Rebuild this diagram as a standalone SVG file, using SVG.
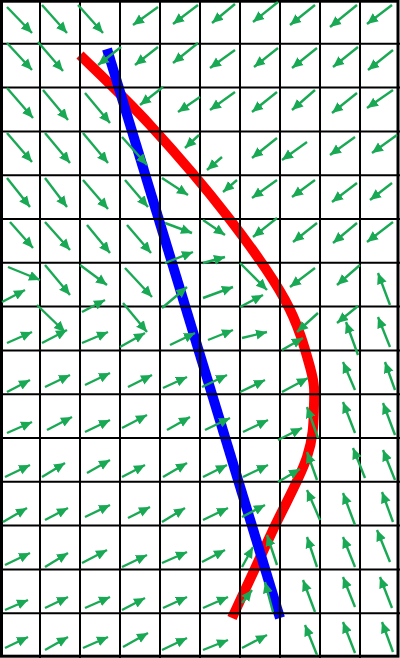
<svg xmlns="http://www.w3.org/2000/svg" width="400" height="658" viewBox="0 0 400 658">
<style>
.g{stroke:#000;stroke-width:2;fill:none}
.a{stroke:#19a954;stroke-width:2.4;fill:none;marker-end:url(#h)}
</style>
<defs>
<marker id="h" markerUnits="userSpaceOnUse" markerWidth="13" markerHeight="12" refX="11" refY="5.5" orient="auto"><path d="M0,0.5 L11,5.5 L0,10.5 z" fill="#19a954"/></marker>
</defs>
<rect width="400" height="658" fill="#fff"/>
<g id="curves">
<path d="M80,55 C91.7,66.7 125.3,98 150,125 C174.7,152 205.5,187.8 228,217 C250.5,246.2 271.3,275 285,300 C298.7,325 305.2,349.5 310,367 C314.8,384.5 314.5,390 314,405 C313.5,420 314,435.8 307,457 C300,478.2 284.5,505.2 272,532 C259.5,558.8 238.7,603.7 232,618" fill="none" stroke="#ff0000" stroke-width="10"/>
<line x1="107" y1="49" x2="280" y2="618" stroke="#0000ff" stroke-width="10"/>
</g>
<g id="grid" class="g">
<path d="M40,0V658M80,0V658M120,0V658M160,0V658M200,0V658M240,0V658M280,0V658M320,0V658M360,0V658"/>
<path d="M0,43.8H400M0,87.6H400M0,131.4H400M0,175.2H400M0,219H400M0,262.8H400M0,306.6H400M0,350.4H400M0,394.2H400M0,438H400M0,481.8H400M0,525.6H400M0,569.4H400M0,613.2H400"/>
<rect x="1.5" y="1.2" width="396.5" height="655" stroke-width="3"/>
</g>
<g id="arrows" class="a">
<line x1="7" y1="7" x2="32" y2="33"/><line x1="42" y1="5" x2="67" y2="33"/><line x1="78" y1="5" x2="103" y2="33"/><line x1="158" y1="7" x2="133" y2="25"/><line x1="198" y1="5" x2="173" y2="24"/><line x1="235" y1="4" x2="212" y2="23"/><line x1="278" y1="2" x2="253" y2="22"/><line x1="315" y1="5" x2="290" y2="25"/><line x1="357" y1="5" x2="330" y2="27"/><line x1="392" y1="5" x2="367" y2="24"/>
<line x1="7" y1="43" x2="32" y2="70"/><line x1="38" y1="42" x2="63" y2="71"/><line x1="121" y1="47" x2="98" y2="65"/><line x1="158" y1="47" x2="135" y2="65"/><line x1="198" y1="43" x2="173" y2="63"/><line x1="235" y1="50" x2="210" y2="68"/><line x1="278" y1="48" x2="254" y2="67"/><line x1="317" y1="48" x2="292" y2="68"/><line x1="358" y1="47" x2="333" y2="67"/><line x1="393" y1="50" x2="368" y2="70"/>
<line x1="7" y1="88" x2="33" y2="118"/><line x1="43" y1="90" x2="68" y2="120"/><line x1="85" y1="93" x2="110" y2="123"/><line x1="163" y1="87" x2="140" y2="105"/><line x1="200" y1="97" x2="178" y2="112"/><line x1="235" y1="92" x2="210" y2="110"/><line x1="277" y1="92" x2="252" y2="112"/><line x1="315" y1="90" x2="292" y2="110"/><line x1="357" y1="93" x2="332" y2="113"/><line x1="393" y1="90" x2="367" y2="108"/>
<line x1="7" y1="133" x2="32" y2="162"/><line x1="45" y1="133" x2="70" y2="163"/><line x1="83" y1="133" x2="108" y2="163"/><line x1="122" y1="137" x2="147" y2="165"/><line x1="199" y1="135" x2="185" y2="148"/><line x1="222" y1="157" x2="207" y2="170"/><line x1="277" y1="138" x2="252" y2="158"/><line x1="307" y1="142" x2="282" y2="160"/><line x1="355" y1="137" x2="330" y2="155"/><line x1="397" y1="135" x2="372" y2="153"/>
<line x1="7" y1="178" x2="30" y2="207"/><line x1="45" y1="178" x2="67" y2="207"/><line x1="83" y1="180" x2="108" y2="209"/><line x1="125" y1="180" x2="148" y2="207"/><line x1="162" y1="178" x2="188" y2="195"/><line x1="237" y1="180" x2="223" y2="192"/><line x1="277" y1="180" x2="252" y2="198"/><line x1="315" y1="180" x2="292" y2="197"/><line x1="357" y1="183" x2="332" y2="202"/><line x1="392" y1="183" x2="370" y2="200"/>
<line x1="10" y1="222" x2="33" y2="248"/><line x1="45" y1="222" x2="70" y2="250"/><line x1="87" y1="225" x2="110" y2="253"/><line x1="127" y1="225" x2="151" y2="253"/><line x1="165" y1="223" x2="192" y2="233"/><line x1="203" y1="220" x2="225" y2="235"/><line x1="277" y1="218" x2="253" y2="237"/><line x1="317" y1="223" x2="293" y2="242"/><line x1="357" y1="223" x2="333" y2="243"/><line x1="393" y1="222" x2="367" y2="242"/><line x1="165" y1="263" x2="193" y2="252"/><line x1="203" y1="263" x2="225" y2="257"/>
<line x1="8" y1="267" x2="40" y2="280"/><line x1="2" y1="302" x2="25" y2="290"/><line x1="45" y1="265" x2="70" y2="295"/><line x1="80" y1="265" x2="107" y2="285"/><line x1="82" y1="312" x2="105" y2="300"/><line x1="125" y1="268" x2="152" y2="297"/><line x1="162" y1="308" x2="187" y2="287"/><line x1="203" y1="298" x2="233" y2="287"/><line x1="240" y1="263" x2="267" y2="290"/><line x1="240" y1="307" x2="263" y2="295"/><line x1="315" y1="268" x2="290" y2="287"/><line x1="360" y1="265" x2="337" y2="285"/><line x1="390" y1="305" x2="378" y2="273"/>
<line x1="7" y1="343" x2="32" y2="332"/><line x1="37" y1="305" x2="65" y2="332"/><line x1="42" y1="343" x2="67" y2="330"/><line x1="82" y1="343" x2="108" y2="332"/><line x1="123" y1="303" x2="147" y2="332"/><line x1="120" y1="347" x2="145" y2="333"/><line x1="170" y1="345" x2="195" y2="333"/><line x1="208" y1="340" x2="233" y2="330"/><line x1="242" y1="338" x2="267" y2="332"/><line x1="318" y1="313" x2="297" y2="332"/><line x1="282" y1="350" x2="303" y2="338"/><line x1="358" y1="306" x2="337" y2="323"/><line x1="358" y1="355" x2="346" y2="322"/><line x1="390" y1="347" x2="378" y2="317"/>
<line x1="7" y1="392" x2="30" y2="380"/><line x1="45" y1="387" x2="70" y2="375"/><line x1="85" y1="385" x2="110" y2="373"/><line x1="128" y1="387" x2="152" y2="375"/><line x1="163" y1="388" x2="187" y2="377"/><line x1="202" y1="387" x2="227" y2="375"/><line x1="240" y1="392" x2="265" y2="380"/><line x1="282" y1="392" x2="308" y2="378"/><line x1="355" y1="390" x2="343" y2="362"/><line x1="395" y1="390" x2="385" y2="362"/>
<line x1="7" y1="433" x2="32" y2="422"/><line x1="47" y1="430" x2="72" y2="417"/><line x1="85" y1="432" x2="110" y2="420"/><line x1="122" y1="428" x2="147" y2="415"/><line x1="167" y1="430" x2="190" y2="417"/><line x1="205" y1="430" x2="230" y2="418"/><line x1="243" y1="432" x2="268" y2="420"/><line x1="278" y1="440" x2="302" y2="428"/><line x1="318" y1="438" x2="307" y2="407"/><line x1="355" y1="433" x2="343" y2="402"/><line x1="395" y1="435" x2="383" y2="403"/>
<line x1="5" y1="477" x2="30" y2="465"/><line x1="42" y1="477" x2="65" y2="463"/><line x1="87" y1="473" x2="110" y2="460"/><line x1="122" y1="477" x2="145" y2="465"/><line x1="163" y1="477" x2="187" y2="463"/><line x1="203" y1="477" x2="227" y2="465"/><line x1="243" y1="477" x2="268" y2="465"/><line x1="278" y1="482" x2="300" y2="469"/><line x1="317" y1="480" x2="307" y2="452"/><line x1="365" y1="478" x2="353" y2="448"/><line x1="395" y1="480" x2="383" y2="450"/>
<line x1="3" y1="522" x2="27" y2="508"/><line x1="45" y1="520" x2="68" y2="508"/><line x1="85" y1="517" x2="110" y2="505"/><line x1="128" y1="518" x2="150" y2="507"/><line x1="162" y1="522" x2="185" y2="508"/><line x1="203" y1="520" x2="228" y2="508"/><line x1="242" y1="517" x2="265" y2="505"/><line x1="320" y1="520" x2="307" y2="490"/><line x1="355" y1="525" x2="343" y2="493"/><line x1="393" y1="522" x2="382" y2="492"/>
<line x1="5" y1="565" x2="30" y2="553"/><line x1="45" y1="567" x2="68" y2="553"/><line x1="82" y1="563" x2="107" y2="550"/><line x1="122" y1="567" x2="147" y2="555"/><line x1="162" y1="563" x2="187" y2="552"/><line x1="202" y1="562" x2="225" y2="550"/><line x1="242" y1="567" x2="253" y2="547"/><line x1="277" y1="565" x2="267" y2="535"/><line x1="317" y1="567" x2="307" y2="537"/><line x1="355" y1="567" x2="343" y2="537"/><line x1="390" y1="562" x2="377" y2="530"/>
<line x1="5" y1="610" x2="28" y2="600"/><line x1="45" y1="608" x2="68" y2="597"/><line x1="85" y1="608" x2="110" y2="597"/><line x1="122" y1="610" x2="145" y2="598"/><line x1="163" y1="608" x2="187" y2="597"/><line x1="203" y1="608" x2="228" y2="597"/><line x1="242" y1="603" x2="252" y2="590"/><line x1="273" y1="612" x2="265" y2="582"/><line x1="315" y1="612" x2="303" y2="580"/><line x1="355" y1="607" x2="343" y2="577"/><line x1="392" y1="608" x2="380" y2="577"/>
<line x1="5" y1="648" x2="28" y2="637"/><line x1="45" y1="650" x2="68" y2="637"/><line x1="83" y1="648" x2="108" y2="637"/><line x1="123" y1="647" x2="148" y2="633"/><line x1="162" y1="650" x2="187" y2="638"/><line x1="203" y1="650" x2="228" y2="640"/><line x1="242" y1="648" x2="267" y2="635"/><line x1="317" y1="655" x2="305" y2="625"/><line x1="355" y1="653" x2="343" y2="622"/><line x1="393" y1="652" x2="382" y2="622"/>
</g>
</svg>
